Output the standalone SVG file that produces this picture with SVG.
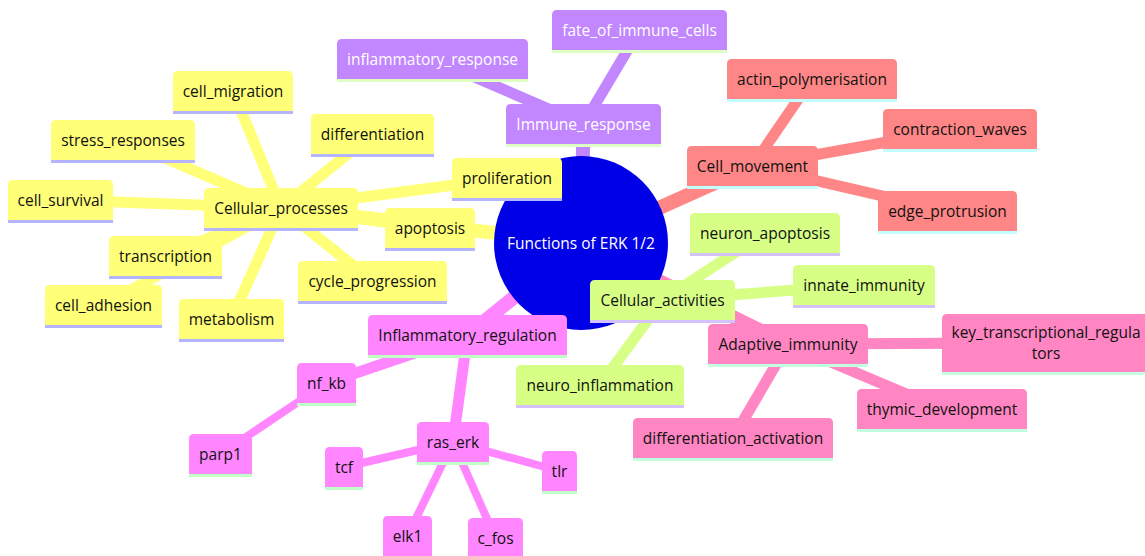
<svg xmlns="http://www.w3.org/2000/svg" width="1145" height="556" viewBox="0 0 1145 556">
<style>
text{font-family:"Open Sans","Noto Sans","Liberation Sans",sans-serif;font-size:15.5px;text-anchor:middle;dominant-baseline:central;fill:#111}
.e{fill:none;stroke-linecap:butt}
.d0{stroke-width:14}.d1{stroke-width:11}.d2{stroke-width:8}
.y{stroke:#ffff78}.p{stroke:#c286ff}.r{stroke:#ff8686}.g{stroke:#d7ff86}.k{stroke:#ff86c2}.m{stroke:#ff86ff}
.ny path{fill:#ffff78}.ny line{stroke:#b4b4ff}
.np path{fill:#c286ff}.np line{stroke:#ddffc4}.np text{fill:#fff}
.nr path{fill:#ff8686}.nr line{stroke:#c2ffff}
.ng path{fill:#d7ff86}.ng line{stroke:#d4c2ff}
.nk path{fill:#ff86c2}.nk line{stroke:#c2ffe0}
.nm path{fill:#ff86ff}.nm line{stroke:#c2ffc8}
line{stroke-width:3}
</style>
<g id="connectors">
<line class="e d0 y" x1="581" y1="243" x2="281" y2="208"/>
<line class="e d0 p" x1="581" y1="243" x2="583.5" y2="124"/>
<line class="e d0 r" x1="581" y1="243" x2="752.5" y2="166"/>
<line class="e d0 g" x1="581" y1="243" x2="662.5" y2="300"/>
<line class="e d0 k" x1="581" y1="243" x2="788" y2="344"/>
<line class="e d0 m" x1="581" y1="243" x2="467.5" y2="335"/>
<line class="e d1 y" x1="281" y1="208" x2="233" y2="91"/>
<line class="e d1 y" x1="281" y1="208" x2="123" y2="140"/>
<line class="e d1 y" x1="281" y1="208" x2="60.5" y2="200"/>
<line class="e d1 y" x1="281" y1="208" x2="165.5" y2="256"/>
<line class="e d1 y" x1="281" y1="208" x2="103.5" y2="305"/>
<line class="e d1 y" x1="281" y1="208" x2="231.5" y2="319"/>
<line class="e d1 y" x1="281" y1="208" x2="372.5" y2="134"/>
<line class="e d1 y" x1="281" y1="208" x2="507" y2="178"/>
<line class="e d1 y" x1="281" y1="208" x2="430" y2="228"/>
<line class="e d1 y" x1="281" y1="208" x2="372.5" y2="281"/>
<line class="e d1 p" x1="583.5" y1="124" x2="432.5" y2="59"/>
<line class="e d1 p" x1="583.5" y1="124" x2="639.5" y2="30"/>
<line class="e d1 r" x1="752.5" y1="166" x2="812" y2="79"/>
<line class="e d1 r" x1="752.5" y1="166" x2="960" y2="129"/>
<line class="e d1 r" x1="752.5" y1="166" x2="947.5" y2="211"/>
<line class="e d1 g" x1="662.5" y1="300" x2="765" y2="233"/>
<line class="e d1 g" x1="662.5" y1="300" x2="864" y2="285"/>
<line class="e d1 g" x1="662.5" y1="300" x2="600" y2="385"/>
<line class="e d1 k" x1="788" y1="344" x2="1046" y2="343"/>
<line class="e d1 k" x1="788" y1="344" x2="942" y2="409"/>
<line class="e d1 k" x1="788" y1="344" x2="733" y2="438"/>
<line class="e d1 m" x1="467.5" y1="335" x2="326.5" y2="383"/>
<line class="e d1 m" x1="467.5" y1="335" x2="453" y2="442"/>
<line class="e d2 m" x1="326.5" y1="383" x2="220.5" y2="454"/>
<line class="e d2 m" x1="453" y1="442" x2="344" y2="467"/>
<line class="e d2 m" x1="453" y1="442" x2="559.5" y2="471"/>
<line class="e d2 m" x1="453" y1="442" x2="407.5" y2="536"/>
<line class="e d2 m" x1="453" y1="442" x2="495.5" y2="538"/>
</g>
<g id="root">
<circle cx="581" cy="243" r="87" fill="#0000e6"/>
<text x="581" y="243" style="fill:#fff">Functions of ERK 1/2</text>
</g>
<g id="Cellular_processes" class="ny" transform="translate(204,188)"><path d="M0 40V5Q0 0 5 0H149Q154 0 154 5V40Z"/><line x1="0" y1="41.5" x2="154" y2="41.5"/><text x="77" y="20">Cellular_processes</text></g>
<g id="cell_migration" class="ny" transform="translate(173,71)"><path d="M0 40V5Q0 0 5 0H115Q120 0 120 5V40Z"/><line x1="0" y1="41.5" x2="120" y2="41.5"/><text x="60" y="20">cell_migration</text></g>
<g id="stress_responses" class="ny" transform="translate(51,120)"><path d="M0 40V5Q0 0 5 0H139Q144 0 144 5V40Z"/><line x1="0" y1="41.5" x2="144" y2="41.5"/><text x="72" y="20">stress_responses</text></g>
<g id="cell_survival" class="ny" transform="translate(8,180)"><path d="M0 40V5Q0 0 5 0H100Q105 0 105 5V40Z"/><line x1="0" y1="41.5" x2="105" y2="41.5"/><text x="52.5" y="20">cell_survival</text></g>
<g id="transcription" class="ny" transform="translate(109,236)"><path d="M0 40V5Q0 0 5 0H108Q113 0 113 5V40Z"/><line x1="0" y1="41.5" x2="113" y2="41.5"/><text x="56.5" y="20">transcription</text></g>
<g id="cell_adhesion" class="ny" transform="translate(45,285)"><path d="M0 40V5Q0 0 5 0H112Q117 0 117 5V40Z"/><line x1="0" y1="41.5" x2="117" y2="41.5"/><text x="58.5" y="20">cell_adhesion</text></g>
<g id="metabolism" class="ny" transform="translate(179,299)"><path d="M0 40V5Q0 0 5 0H100Q105 0 105 5V40Z"/><line x1="0" y1="41.5" x2="105" y2="41.5"/><text x="52.5" y="20">metabolism</text></g>
<g id="differentiation" class="ny" transform="translate(311,114)"><path d="M0 40V5Q0 0 5 0H118Q123 0 123 5V40Z"/><line x1="0" y1="41.5" x2="123" y2="41.5"/><text x="61.5" y="20">differentiation</text></g>
<g id="proliferation" class="ny" transform="translate(452,158)"><path d="M0 40V5Q0 0 5 0H105Q110 0 110 5V40Z"/><line x1="0" y1="41.5" x2="110" y2="41.5"/><text x="55" y="20">proliferation</text></g>
<g id="apoptosis" class="ny" transform="translate(385,208)"><path d="M0 40V5Q0 0 5 0H85Q90 0 90 5V40Z"/><line x1="0" y1="41.5" x2="90" y2="41.5"/><text x="45" y="20">apoptosis</text></g>
<g id="cycle_progression" class="ny" transform="translate(298,261)"><path d="M0 40V5Q0 0 5 0H144Q149 0 149 5V40Z"/><line x1="0" y1="41.5" x2="149" y2="41.5"/><text x="74.5" y="20">cycle_progression</text></g>
<g id="Immune_response" class="np" transform="translate(506,104)"><path d="M0 40V5Q0 0 5 0H150Q155 0 155 5V40Z"/><line x1="0" y1="41.5" x2="155" y2="41.5"/><text x="77.5" y="20">Immune_response</text></g>
<g id="inflammatory_response" class="np" transform="translate(337,39)"><path d="M0 40V5Q0 0 5 0H186Q191 0 191 5V40Z"/><line x1="0" y1="41.5" x2="191" y2="41.5"/><text x="95.5" y="20">inflammatory_response</text></g>
<g id="fate_of_immune_cells" class="np" transform="translate(552,10)"><path d="M0 40V5Q0 0 5 0H170Q175 0 175 5V40Z"/><line x1="0" y1="41.5" x2="175" y2="41.5"/><text x="87.5" y="20">fate_of_immune_cells</text></g>
<g id="Cell_movement" class="nr" transform="translate(687,146)"><path d="M0 40V5Q0 0 5 0H126Q131 0 131 5V40Z"/><line x1="0" y1="41.5" x2="131" y2="41.5"/><text x="65.5" y="20">Cell_movement</text></g>
<g id="actin_polymerisation" class="nr" transform="translate(727,59)"><path d="M0 40V5Q0 0 5 0H165Q170 0 170 5V40Z"/><line x1="0" y1="41.5" x2="170" y2="41.5"/><text x="85" y="20">actin_polymerisation</text></g>
<g id="contraction_waves" class="nr" transform="translate(883,109)"><path d="M0 40V5Q0 0 5 0H149Q154 0 154 5V40Z"/><line x1="0" y1="41.5" x2="154" y2="41.5"/><text x="77" y="20">contraction_waves</text></g>
<g id="edge_protrusion" class="nr" transform="translate(878,191)"><path d="M0 40V5Q0 0 5 0H134Q139 0 139 5V40Z"/><line x1="0" y1="41.5" x2="139" y2="41.5"/><text x="69.5" y="20">edge_protrusion</text></g>
<g id="Cellular_activities" class="ng" transform="translate(590,280)"><path d="M0 40V5Q0 0 5 0H140Q145 0 145 5V40Z"/><line x1="0" y1="41.5" x2="145" y2="41.5"/><text x="72.5" y="20">Cellular_activities</text></g>
<g id="neuron_apoptosis" class="ng" transform="translate(690,213)"><path d="M0 40V5Q0 0 5 0H145Q150 0 150 5V40Z"/><line x1="0" y1="41.5" x2="150" y2="41.5"/><text x="75" y="20">neuron_apoptosis</text></g>
<g id="innate_immunity" class="ng" transform="translate(793,265)"><path d="M0 40V5Q0 0 5 0H137Q142 0 142 5V40Z"/><line x1="0" y1="41.5" x2="142" y2="41.5"/><text x="71" y="20">innate_immunity</text></g>
<g id="neuro_inflammation" class="ng" transform="translate(516,365)"><path d="M0 40V5Q0 0 5 0H163Q168 0 168 5V40Z"/><line x1="0" y1="41.5" x2="168" y2="41.5"/><text x="84" y="20">neuro_inflammation</text></g>
<g id="Adaptive_immunity" class="nk" transform="translate(708,324)"><path d="M0 40V5Q0 0 5 0H155Q160 0 160 5V40Z"/><line x1="0" y1="41.5" x2="160" y2="41.5"/><text x="80" y="20">Adaptive_immunity</text></g>
<g id="key_transcriptional_regulators" class="nk" transform="translate(942,314)"><path d="M0 58V5Q0 0 5 0H203Q208 0 208 5V58Z"/><line x1="0" y1="59.5" x2="208" y2="59.5"/><text x="104" y="18"><tspan x="104" y="18">key_transcriptional_regula</tspan><tspan x="104" y="39">tors</tspan></text></g>
<g id="thymic_development" class="nk" transform="translate(857,389)"><path d="M0 40V5Q0 0 5 0H165Q170 0 170 5V40Z"/><line x1="0" y1="41.5" x2="170" y2="41.5"/><text x="85" y="20">thymic_development</text></g>
<g id="differentiation_activation" class="nk" transform="translate(633,418)"><path d="M0 40V5Q0 0 5 0H195Q200 0 200 5V40Z"/><line x1="0" y1="41.5" x2="200" y2="41.5"/><text x="100" y="20">differentiation_activation</text></g>
<g id="Inflammatory_regulation" class="nm" transform="translate(368,315)"><path d="M0 40V5Q0 0 5 0H194Q199 0 199 5V40Z"/><line x1="0" y1="41.5" x2="199" y2="41.5"/><text x="99.5" y="20">Inflammatory_regulation</text></g>
<g id="nf_kb" class="nm" transform="translate(297,363)"><path d="M0 40V5Q0 0 5 0H54Q59 0 59 5V40Z"/><line x1="0" y1="41.5" x2="59" y2="41.5"/><text x="29.5" y="20">nf_kb</text></g>
<g id="parp1" class="nm" transform="translate(189,434)"><path d="M0 40V5Q0 0 5 0H58Q63 0 63 5V40Z"/><line x1="0" y1="41.5" x2="63" y2="41.5"/><text x="31.5" y="20">parp1</text></g>
<g id="ras_erk" class="nm" transform="translate(417,422)"><path d="M0 40V5Q0 0 5 0H67Q72 0 72 5V40Z"/><line x1="0" y1="41.5" x2="72" y2="41.5"/><text x="36" y="20">ras_erk</text></g>
<g id="tcf" class="nm" transform="translate(325,447)"><path d="M0 40V5Q0 0 5 0H33Q38 0 38 5V40Z"/><line x1="0" y1="41.5" x2="38" y2="41.5"/><text x="19" y="20">tcf</text></g>
<g id="tlr" class="nm" transform="translate(542,451)"><path d="M0 40V5Q0 0 5 0H30Q35 0 35 5V40Z"/><line x1="0" y1="41.5" x2="35" y2="41.5"/><text x="17.5" y="20">tlr</text></g>
<g id="elk1" class="nm" transform="translate(383,516)"><path d="M0 40V5Q0 0 5 0H44Q49 0 49 5V40Z"/><line x1="0" y1="41.5" x2="49" y2="41.5"/><text x="24.5" y="20">elk1</text></g>
<g id="c_fos" class="nm" transform="translate(468,518)"><path d="M0 40V5Q0 0 5 0H50Q55 0 55 5V40Z"/><line x1="0" y1="41.5" x2="55" y2="41.5"/><text x="27.5" y="20">c_fos</text></g>
</svg>
